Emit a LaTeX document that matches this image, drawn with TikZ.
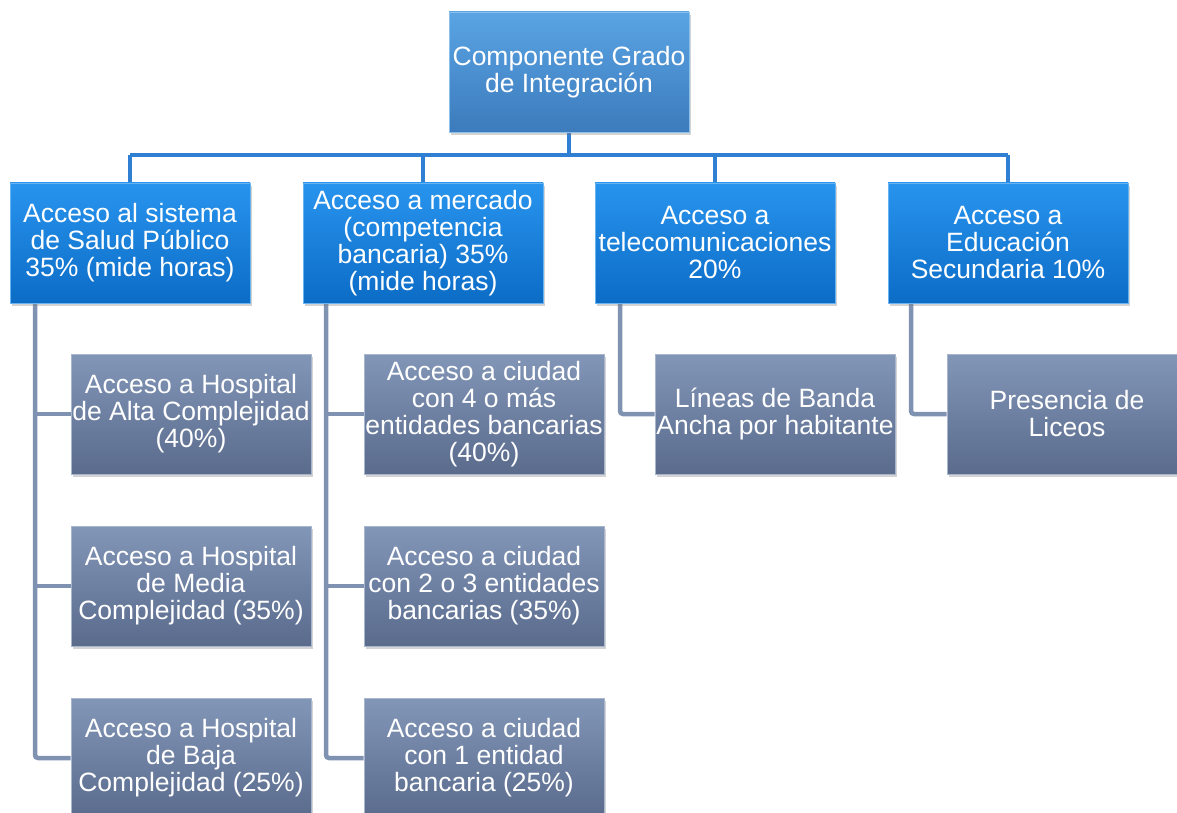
\documentclass[tikz,border=0pt]{standalone}
\usepackage{fontspec}
\setmainfont{Liberation Sans}
\usetikzlibrary{shadows,calc,backgrounds}
\definecolor{topA}{HTML}{5AA4E4}
\definecolor{topB}{HTML}{3C7BBC}
\definecolor{midA}{HTML}{2894EE}
\definecolor{midB}{HTML}{0C6CC6}
\definecolor{lowA}{HTML}{8296B8}
\definecolor{lowB}{HTML}{5A6B8C}
\definecolor{blueline}{HTML}{2F7FD2}
\definecolor{greyline}{HTML}{7F92B2}
\tikzset{
  box/.style={rectangle, minimum width=240pt, minimum height=120pt, inner sep=0pt,
    align=center, text=white, font=\fontsize{26.5}{27}\selectfont,
    drop shadow={opacity=0.35, shadow xshift=2pt, shadow yshift=-3pt}},
  topbox/.style={box, top color=topA, bottom color=topB, draw=topA!70!white, line width=0.8pt},
  midbox/.style={box, top color=midA, bottom color=midB, draw=midA!70!white, line width=0.8pt},
  lowbox/.style={box, top color=lowA, bottom color=lowB, draw=lowA!70!white, line width=0.8pt},
  bluecon/.style={draw=blueline, line width=4.5pt},
  greycon/.style={draw=greyline, line width=4.5pt, rounded corners=3pt},
}
\begin{document}
\begin{tikzpicture}[x=1pt,y=-1pt]
\useasboundingbox (0,0) rectangle (1177,813);
\clip (0,0) rectangle (1177,813);
% nodes
\node[topbox] (top) at (569,72) {Componente Grado\\de Integración};
\node[midbox] (b1) at (130,243) {Acceso al sistema\\de Salud Público\\35\% (mide horas)};
\node[midbox] (b2) at (423,243) {Acceso a mercado\\(competencia\\bancaria) 35\%\\(mide horas)};
\node[midbox] (b3) at (715,243) {Acceso a\\telecomunicaciones\\20\%};
\node[midbox] (b4) at (1008,243) {Acceso a\\Educación\\Secundaria 10\%};
\node[lowbox] (c11) at (191,414) {Acceso a Hospital\\de Alta Complejidad\\(40\%)};
\node[lowbox] (c12) at (191,586) {Acceso a Hospital\\de Media\\Complejidad (35\%)};
\node[lowbox] (c13) at (191,758) {Acceso a Hospital\\de Baja\\Complejidad (25\%)};
\node[lowbox] (c21) at (484,414) {Acceso a ciudad\\con 4 o más\\entidades bancarias\\(40\%)};
\node[lowbox] (c22) at (484,586) {Acceso a ciudad\\con 2 o 3 entidades\\bancarias (35\%)};
\node[lowbox] (c23) at (484,758) {Acceso a ciudad\\con 1 entidad\\bancaria (25\%)};
\node[lowbox] (c3) at (775,414) {Líneas de Banda\\Ancha por habitante};
\node[lowbox] (c4) at (1067,414) {Presencia de\\Liceos};
% connectors
\begin{scope}[on background layer]
\coordinate (bus) at (0,155);
\draw[bluecon] (top.south) -- (top.south |- bus);
\draw[bluecon] (b1.north |- bus) -- (b4.north |- bus);
\foreach \n in {b1,b2,b3,b4} \draw[bluecon] (\n.north |- bus) -- (\n.north);
\coordinate (s1) at (35,303);
\coordinate (s2) at (326,303);
\coordinate (s3) at (620,303);
\coordinate (s4) at (911,303);
\draw[greycon] (s1) |- (c13.west);
\draw[greycon] (s1 |- c11.west) -- (c11.west);
\draw[greycon] (s1 |- c12.west) -- (c12.west);
\draw[greycon] (s2) |- (c23.west);
\draw[greycon] (s2 |- c21.west) -- (c21.west);
\draw[greycon] (s2 |- c22.west) -- (c22.west);
\draw[greycon] (s3) |- (c3.west);
\draw[greycon] (s4) |- (c4.west);
\end{scope}
\end{tikzpicture}
\end{document}
